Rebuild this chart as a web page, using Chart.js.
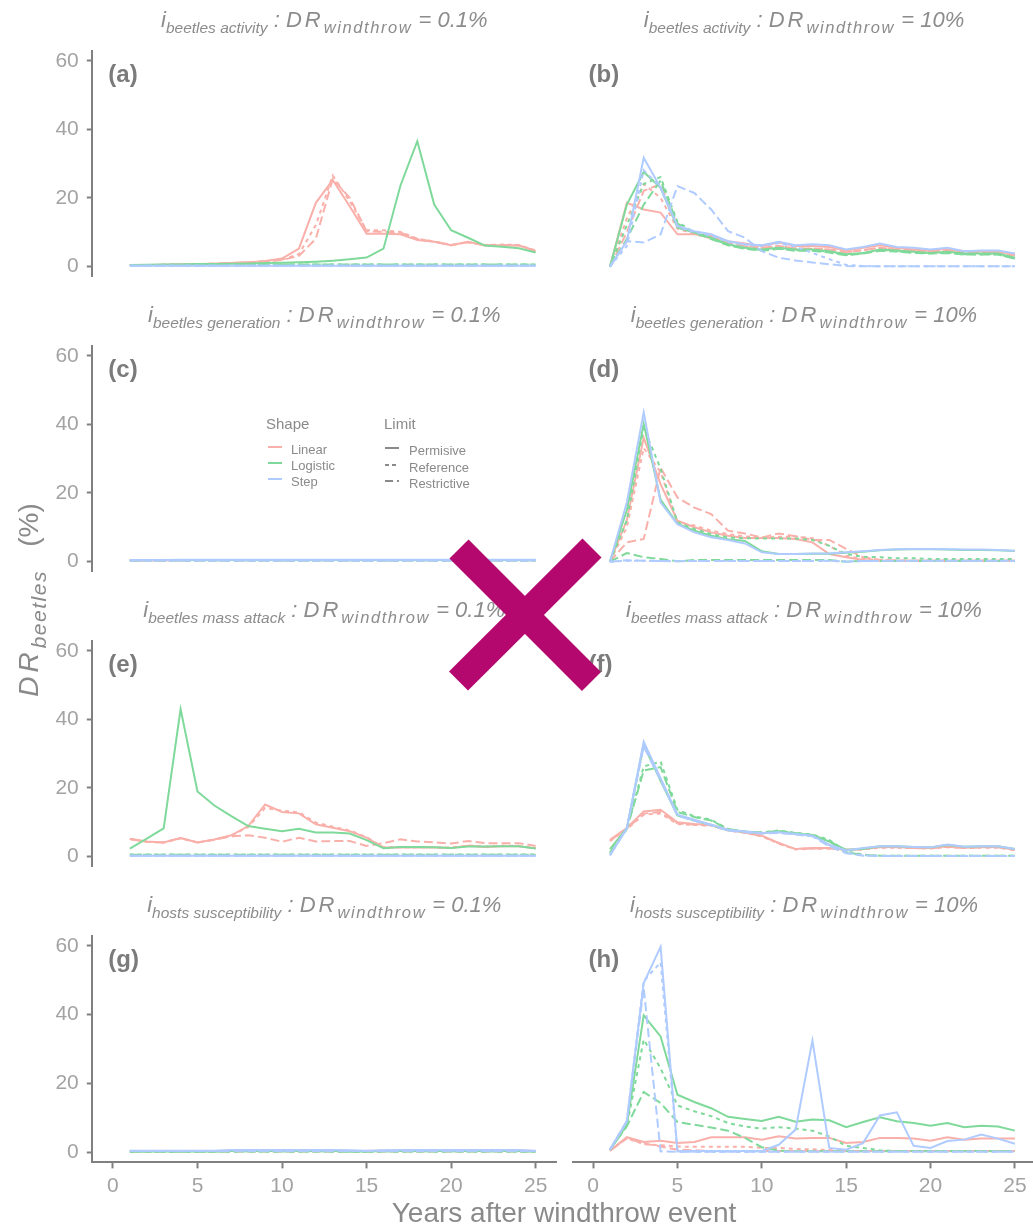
<!DOCTYPE html>
<html><head><meta charset="utf-8">
<script src="https://cdn.jsdelivr.net/npm/chart.js@4.4.1/dist/chart.umd.min.js"></script>
<style>
html,body{margin:0;padding:0;background:#fff;}
body{width:1033px;height:1228px;overflow:hidden;position:relative;font-family:"Liberation Sans",Arial,sans-serif;}
canvas{position:absolute;}
.strip{position:absolute;transform:translateX(-50%);white-space:nowrap;color:#8c8c8c;font-style:italic;font-size:22px;line-height:26px;}
.strip .sb{font-size:15.5px;position:relative;top:6px;}
.strip .sw{font-size:16.5px;position:relative;top:6px;letter-spacing:1.6px;}
.strip .dr{letter-spacing:3px;}
.plab{position:absolute;font-weight:bold;font-size:24px;line-height:26px;color:#7b7b7b;}
.xtitle{position:absolute;left:564px;top:1197px;transform:translateX(-50%);font-size:28px;line-height:32px;color:#8a8a8a;white-space:nowrap;}
.ytitle{position:absolute;left:30px;top:600px;transform:translate(-50%,-50%) rotate(-90deg);font-size:28px;line-height:32px;color:#8a8a8a;white-space:nowrap;}
.ytitle .dr{font-style:italic;letter-spacing:4px;}
.ytitle .sb{font-style:italic;font-size:21px;position:relative;top:8px;letter-spacing:1.5px;}
.leg{position:absolute;color:#8a8a8a;white-space:nowrap;}
.leg .t{position:absolute;font-size:15px;line-height:16px;}
.leg .e{position:absolute;font-size:13px;line-height:14px;}
svg.key{position:absolute;overflow:visible;}
svg.xmark{position:absolute;left:0;top:0;pointer-events:none;}
</style>
</head><body>
<script>
// ---------- data ----------
const YEARS = [1,2,3,4,5,6,7,8,9,10,11,12,13,14,15,16,17,18,19,20,21,22,23,24,25];
const X_TICKS = [0,5,10,15,20,25];
const Y_TICKS = [0,20,40,60];
const SHAPES = ['Linear','Logistic','Step'];
const LIMITS = ['Permisive','Reference','Restrictive'];
const FACTORS = ['beetles activity','beetles generation','beetles mass attack','hosts susceptibility'];
const DR_LEVELS = ['0.1%','10%'];
const PANEL_LABELS = ['(a)','(b)','(c)','(d)','(e)','(f)','(g)','(h)'];

// (a) beetles activity, 0.1%
const a_lin_per = [0.3,0.3,0.4,0.5,0.6,0.7,0.9,1.1,1.5,2.2,5.1,18.5,25.2,17.5,9.5,9.5,9.3,7.6,7.1,6.1,7.1,6.0,6.1,6.0,4.4];
const a_lin_ref = [0.3,0.3,0.4,0.5,0.6,0.7,0.9,1.1,1.4,1.9,3.5,12.0,26.5,19.0,10.5,10.5,10.0,8.0,7.2,6.2,7.0,6.2,6.3,6.2,4.6];
const a_lin_res = [0.3,0.3,0.4,0.5,0.6,0.7,0.9,1.1,1.4,1.8,3.0,8.0,25.5,20.0,10.2,10.0,9.8,7.9,7.2,6.1,7.0,6.1,6.2,6.1,4.5];
const a_log_per = [0.3,0.4,0.5,0.5,0.6,0.6,0.7,0.8,0.9,1.0,1.1,1.3,1.6,2.0,2.5,5.1,23.5,36.5,18.0,10.5,8.3,6.0,5.7,5.2,4.0];
const a_log_ref = [0.3,0.3,0.4,0.4,0.4,0.4,0.4,0.5,0.5,0.5,0.5,0.5,0.5,0.5,0.5,0.5,0.5,0.5,0.5,0.5,0.5,0.5,0.5,0.5,0.5];
const a_log_res = [0.3,0.3,0.3,0.4,0.4,0.4,0.4,0.4,0.5,0.5,0.5,0.5,0.5,0.5,0.5,0.5,0.5,0.5,0.5,0.5,0.5,0.5,0.5,0.5,0.5];
const a_stp_per = [0.1,0.1,0.1,0.1,0.1,0.1,0.1,0.1,0.1,0.1,0.1,0.1,0.1,0.1,0.1,0.1,0.1,0.1,0.1,0.1,0.1,0.1,0.1,0.1,0.1];
const a_stp_ref = [0.1,0.1,0.1,0.1,0.1,0.1,0.1,0.1,0.1,0.1,0.1,0.1,0.1,0.1,0.1,0.1,0.1,0.1,0.1,0.1,0.1,0.1,0.1,0.1,0.1];
const a_stp_res = [0.1,0.1,0.1,0.1,0.1,0.1,0.1,0.1,0.1,0.1,0.1,0.1,0.1,0.1,0.1,0.1,0.1,0.1,0.1,0.1,0.1,0.1,0.1,0.1,0.1];

// (b) beetles activity, 10%
const b_lin_per = [0,18.5,16.6,15.7,9.4,9.4,8.9,7.4,6.7,6.0,7.0,6.0,6.0,5.7,4.7,5.5,6.2,5.5,5.0,4.7,5.2,4.5,4.5,4.5,3.4];
const b_lin_ref = [0,14.0,24.0,20.0,11.0,9.5,8.2,6.8,6.0,5.5,6.0,5.3,5.2,5.0,4.2,4.8,5.5,5.0,4.6,4.3,4.8,4.2,4.2,4.2,3.2];
const b_lin_res = [0,10.0,22.0,24.0,12.0,9.8,8.3,6.8,6.0,5.5,6.0,5.3,5.3,5.0,4.2,4.8,5.5,5.0,4.6,4.3,4.8,4.2,4.2,4.2,3.2];
const b_log_per = [0,18.0,27.5,22.9,11.3,9.9,8.4,6.5,5.5,5.0,5.5,5.0,5.0,4.5,3.6,4.0,5.0,4.7,4.3,4.0,4.3,3.8,3.8,3.8,2.6];
const b_log_ref = [0,12.0,24.0,26.0,13.0,10.0,8.2,6.3,5.3,4.8,5.3,4.8,4.8,4.3,3.4,3.9,4.8,4.5,4.1,3.9,4.1,3.6,3.6,3.6,2.4];
const b_log_res = [0,8.0,18.0,25.0,12.5,9.8,8.0,6.2,5.2,4.6,5.2,4.6,4.6,4.1,3.3,3.8,4.6,4.4,4.0,3.8,4.0,3.5,3.5,3.5,2.3];
const b_stp_per = [0,7.4,31.6,22.9,11.8,10.3,9.4,7.4,6.5,6.2,7.2,6.2,6.5,6.2,5.0,5.7,6.7,5.7,5.5,5.0,5.5,4.5,4.7,4.7,3.8];
const b_stp_ref = [0,6.0,28.0,23.0,11.5,10.0,9.0,7.2,6.4,6.0,6.8,5.8,4.0,2.2,0.5,0.2,0.1,0.1,0.1,0.1,0.1,0.1,0.1,0.1,0.1];
const b_stp_res = [0,7.4,7.0,9.4,23.4,21.4,16.6,10.3,8.4,4.5,2.6,1.8,1.2,0.7,0.2,0.1,0.1,0.1,0.1,0.1,0.1,0.1,0.1,0.1,0.1];

// (c) beetles generation, 0.1%
const c_lin_per = [0.2,0.2,0.2,0.3,0.3,0.3,0.3,0.3,0.3,0.3,0.3,0.3,0.3,0.3,0.3,0.3,0.3,0.3,0.3,0.3,0.3,0.3,0.3,0.3,0.3];
const c_lin_ref = [0.2,0.2,0.2,0.2,0.3,0.3,0.3,0.3,0.3,0.3,0.3,0.3,0.3,0.3,0.3,0.3,0.3,0.3,0.3,0.3,0.3,0.3,0.3,0.3,0.3];
const c_lin_res = [0.2,0.2,0.2,0.2,0.2,0.2,0.2,0.2,0.2,0.2,0.2,0.2,0.2,0.2,0.2,0.2,0.2,0.2,0.2,0.2,0.2,0.2,0.2,0.2,0.2];
const c_log_per = [0.3,0.3,0.3,0.3,0.3,0.3,0.3,0.3,0.3,0.3,0.3,0.3,0.3,0.3,0.3,0.3,0.3,0.3,0.3,0.3,0.3,0.3,0.3,0.3,0.3];
const c_log_ref = [0.2,0.2,0.2,0.2,0.2,0.2,0.2,0.2,0.2,0.2,0.2,0.2,0.2,0.2,0.2,0.2,0.2,0.2,0.2,0.2,0.2,0.2,0.2,0.2,0.2];
const c_log_res = [0.2,0.2,0.2,0.2,0.2,0.2,0.2,0.2,0.2,0.2,0.2,0.2,0.2,0.2,0.2,0.2,0.2,0.2,0.2,0.2,0.2,0.2,0.2,0.2,0.2];
const c_stp_per = [0.3,0.3,0.3,0.4,0.4,0.4,0.4,0.4,0.4,0.4,0.4,0.4,0.4,0.4,0.4,0.4,0.4,0.4,0.4,0.4,0.4,0.4,0.4,0.4,0.4];
const c_stp_ref = [0.2,0.1,0.2,0.2,0.2,0.2,0.2,0.2,0.2,0.2,0.2,0.2,0.2,0.2,0.2,0.2,0.2,0.2,0.2,0.2,0.2,0.2,0.2,0.2,0.2];
const c_stp_res = [0.2,0.2,0.2,0.2,0.2,0.2,0.2,0.2,0.2,0.2,0.2,0.2,0.2,0.2,0.1,0.2,0.2,0.2,0.2,0.2,0.2,0.2,0.2,0.2,0.2];

// (d) beetles generation, 10%
const d_lin_per = [0,12.0,36.0,22.5,11.9,10.0,8.5,7.5,6.9,6.9,6.9,6.6,5.6,2.2,1.3,0.5,0.3,0.3,0.3,0.3,0.3,0.3,0.3,0.3,0.3];
const d_lin_ref = [0,10.0,33.0,26.0,11.4,10.5,9.0,8.0,7.3,7.0,7.2,7.3,6.8,4.6,1.7,0.8,0.5,0.3,0.3,0.3,0.3,0.3,0.3,0.3,0.3];
const d_lin_res = [0,5.6,6.6,27.3,18.6,15.7,13.8,9.0,8.2,7.0,8.2,7.4,6.3,6.3,3.7,1.3,0.5,0.3,0.3,0.3,0.3,0.3,0.3,0.3,0.3];
const d_log_per = [0,15.0,40.0,18.0,11.0,9.0,7.5,6.5,6.0,3.0,2.2,2.2,2.3,2.3,2.6,2.9,3.3,3.5,3.6,3.6,3.5,3.4,3.4,3.3,3.1];
const d_log_ref = [0,12.0,39.0,27.0,11.4,9.5,8.0,7.0,6.8,6.7,6.7,6.7,6.3,4.6,2.2,1.4,1.3,1.0,1.0,0.8,0.8,0.8,0.8,0.8,0.8];
const d_log_res = [0,2.5,1.3,0.8,0.1,0.5,0.5,0.5,0.5,0.5,0.5,0.5,0.5,0.5,0.0,0.2,0.2,0.2,0.2,0.2,0.2,0.2,0.2,0.2,0.2];
const d_stp_per = [0,17.2,43.3,17.2,10.9,8.5,7.1,6.3,5.3,2.7,2.2,2.2,2.4,2.4,2.7,3.0,3.4,3.6,3.7,3.7,3.6,3.5,3.5,3.4,3.2];
const d_stp_ref = [0,0.3,0.3,0.2,0.2,0.2,0.2,0.2,0.2,0.2,0.2,0.2,0.2,0.2,0.1,0.2,0.2,0.2,0.2,0.2,0.2,0.2,0.2,0.2,0.2];
const d_stp_res = [0,0.4,0.3,0.2,0.1,0.2,0.2,0.2,0.2,0.2,0.2,0.2,0.2,0.3,0.0,0.2,0.2,0.3,0.3,0.3,0.3,0.3,0.3,0.3,0.3];

// (e) beetles mass attack, 0.1%
const e_lin_per = [5.1,4.3,4.0,5.3,4.0,4.9,6.1,8.8,15.1,12.9,12.5,9.3,8.3,7.3,5.4,2.5,2.5,2.5,2.5,2.4,3.0,2.7,2.9,2.9,2.3];
const e_lin_ref = [5.0,4.2,4.0,5.2,4.0,4.8,6.0,8.5,14.1,13.3,12.8,9.8,8.6,7.5,5.5,2.6,2.6,2.6,2.6,2.5,3.1,2.8,3.0,3.0,2.4];
const e_lin_res = [5.0,4.2,4.0,5.3,4.0,4.8,5.8,6.1,5.4,4.2,5.4,4.3,4.4,4.4,3.0,3.8,4.9,4.3,4.0,3.7,4.4,3.8,3.8,3.8,3.0];
const e_log_per = [2.2,5.1,8.1,43.0,18.9,14.8,11.7,8.8,8.0,7.3,8.0,6.9,6.9,6.6,4.7,2.3,2.7,2.7,2.6,2.4,2.8,2.8,2.9,2.9,2.2];
const e_log_ref = [0.5,0.5,0.5,0.5,0.5,0.5,0.5,0.5,0.5,0.5,0.5,0.5,0.5,0.5,0.5,0.5,0.5,0.5,0.5,0.5,0.5,0.5,0.5,0.5,0.5];
const e_log_res = [0.4,0.4,0.4,0.4,0.4,0.4,0.4,0.4,0.4,0.4,0.4,0.4,0.4,0.4,0.4,0.4,0.4,0.4,0.4,0.4,0.4,0.4,0.4,0.4,0.4];
const e_stp_per = [0.1,0.1,0.1,0.1,0.1,0.1,0.1,0.1,0.1,0.1,0.1,0.1,0.1,0.1,0.1,0.1,0.1,0.1,0.1,0.1,0.1,0.1,0.1,0.1,0.1];
const e_stp_ref = [0.1,0.1,0.1,0.1,0.1,0.1,0.1,0.1,0.1,0.1,0.1,0.1,0.1,0.1,0.1,0.1,0.1,0.1,0.1,0.1,0.1,0.1,0.1,0.1,0.1];
const e_stp_res = [0.1,0.1,0.1,0.1,0.1,0.1,0.1,0.1,0.1,0.1,0.1,0.1,0.1,0.1,0.1,0.1,0.1,0.1,0.1,0.1,0.1,0.1,0.1,0.1,0.1];

// (f) beetles mass attack, 10%
const f_lin_per = [4.9,8.3,13.1,13.6,10.0,9.5,9.3,7.8,7.1,6.1,4.0,2.2,2.5,2.5,2.0,2.2,2.8,2.8,2.6,2.5,3.0,2.6,2.8,2.8,2.0];
const f_lin_ref = [4.5,8.0,12.2,12.5,9.5,9.2,9.0,7.6,6.9,5.9,3.8,2.1,2.3,2.4,1.9,2.1,2.6,2.6,2.5,2.4,2.8,2.5,2.6,2.6,1.9];
const f_lin_res = [4.7,8.1,12.5,13.0,9.7,9.3,9.1,7.7,7.0,6.0,3.9,2.2,2.4,2.4,2.0,2.2,2.7,2.7,2.5,2.4,2.9,2.5,2.7,2.7,2.0];
const f_log_per = [2.2,8.3,32.5,22.0,12.0,10.5,9.2,7.7,7.2,6.8,7.3,6.8,6.2,4.4,2.0,2.2,3.0,3.0,2.8,2.7,3.4,2.9,3.0,3.0,2.2];
const f_log_ref = [1.0,8.0,26.2,27.6,13.6,11.7,10.7,8.0,7.3,7.0,7.6,6.9,6.4,4.9,1.5,0.6,0.3,0.3,0.3,0.3,0.3,0.3,0.3,0.3,0.3];
const f_log_res = [1.2,8.0,25.0,26.0,13.0,11.5,10.5,8.0,7.3,7.0,7.5,6.8,6.3,4.5,1.3,0.5,0.3,0.3,0.3,0.3,0.3,0.3,0.3,0.3,0.3];
const f_stp_per = [0.4,8.3,33.4,22.8,12.2,10.7,9.3,7.8,7.3,6.9,7.1,6.6,6.1,3.5,1.8,2.5,3.0,3.0,2.8,2.7,3.5,2.9,3.0,3.0,2.2];
const f_stp_ref = [0.4,8.3,32.8,22.5,12.0,10.5,9.2,7.7,7.2,6.8,7.0,6.5,6.0,3.3,1.2,0.4,0.2,0.2,0.2,0.2,0.2,0.2,0.2,0.2,0.2];
const f_stp_res = [0.4,8.2,32.0,22.2,11.9,10.4,9.1,7.6,7.1,6.7,6.9,6.4,5.9,3.0,1.0,0.3,0.2,0.2,0.2,0.2,0.2,0.2,0.2,0.2,0.2];

// (g) hosts susceptibility, 0.1%
const g_lin_per = [0.3,0.3,0.3,0.3,0.3,0.3,0.4,0.4,0.4,0.4,0.4,0.4,0.4,0.3,0.3,0.4,0.4,0.4,0.4,0.4,0.4,0.4,0.4,0.4,0.3];
const g_lin_ref = [0.2,0.2,0.2,0.2,0.2,0.2,0.3,0.3,0.3,0.3,0.3,0.3,0.3,0.2,0.2,0.3,0.3,0.3,0.3,0.3,0.3,0.3,0.3,0.3,0.2];
const g_lin_res = [0.2,0.2,0.2,0.2,0.2,0.2,0.2,0.2,0.2,0.2,0.2,0.2,0.2,0.2,0.2,0.2,0.2,0.2,0.2,0.2,0.2,0.2,0.2,0.2,0.2];
const g_log_per = [0.2,0.2,0.2,0.2,0.2,0.2,0.3,0.3,0.3,0.3,0.3,0.3,0.3,0.2,0.2,0.3,0.3,0.3,0.3,0.3,0.3,0.3,0.3,0.3,0.2];
const g_log_ref = [0.2,0.2,0.2,0.2,0.2,0.2,0.2,0.2,0.2,0.2,0.2,0.2,0.2,0.2,0.2,0.2,0.2,0.2,0.2,0.2,0.2,0.2,0.2,0.2,0.2];
const g_log_res = [0.2,0.2,0.2,0.2,0.2,0.2,0.2,0.2,0.2,0.2,0.2,0.2,0.2,0.2,0.2,0.2,0.2,0.2,0.2,0.2,0.2,0.2,0.2,0.2,0.2];
const g_stp_per = [0.4,0.4,0.4,0.4,0.4,0.4,0.6,0.6,0.6,0.6,0.6,0.6,0.6,0.5,0.4,0.5,0.6,0.6,0.6,0.6,0.6,0.6,0.6,0.6,0.4];
const g_stp_ref = [0.3,0.3,0.3,0.3,0.3,0.3,0.4,0.4,0.4,0.4,0.4,0.4,0.4,0.3,0.3,0.4,0.4,0.4,0.4,0.4,0.4,0.4,0.4,0.4,0.3];
const g_stp_res = [0.3,0.3,0.3,0.3,0.3,0.3,0.3,0.3,0.3,0.3,0.3,0.3,0.3,0.3,0.3,0.3,0.3,0.3,0.3,0.3,0.3,0.3,0.3,0.3,0.3];

// (h) hosts susceptibility, 10%
const h_lin_per = [0.4,4.3,2.9,3.3,2.6,2.9,4.3,4.3,4.3,3.6,4.6,3.9,4.1,4.1,2.6,2.9,4.1,4.1,3.9,3.3,4.3,3.6,3.9,3.9,3.9];
const h_lin_ref = [0.4,4.0,2.3,2.0,1.6,1.5,1.5,1.5,1.5,1.2,1.2,0.9,0.8,0.6,0.3,0.3,0.3,0.3,0.3,0.3,0.3,0.3,0.3,0.3,0.3];
const h_lin_res = [0.4,4.0,2.5,1.6,0.7,0.5,0.3,0.3,0.3,0.3,0.3,0.3,0.3,0.3,0.3,0.3,0.3,0.3,0.3,0.3,0.3,0.3,0.3,0.3,0.3];
const h_log_per = [0.7,7.9,39.6,33.5,16.6,14.5,12.7,10.2,9.6,9.0,10.2,8.8,9.4,9.2,7.2,8.7,10.1,8.9,8.4,7.6,8.4,7.2,7.6,7.4,6.2];
const h_log_ref = [0.7,7.5,32.6,24.3,13.5,11.8,10.4,8.4,7.4,6.8,7.2,6.8,6.2,4.5,1.8,1.2,0.5,0.3,0.3,0.3,0.3,0.3,0.3,0.3,0.3];
const h_log_res = [0.7,7.5,17.4,14.2,8.7,7.9,7.1,6.2,4.1,1.4,0.4,0.2,0.2,0.2,0.2,0.2,0.2,0.2,0.2,0.2,0.2,0.2,0.2,0.2,0.2];
const h_stp_per = [0.7,8.9,49.0,59.5,0.2,0.3,0.3,0.3,0.3,0.3,2.1,6.5,32.3,1.2,0.7,2.6,10.6,11.5,1.8,1.2,3.2,3.6,5.1,3.9,2.4];
const h_stp_ref = [0.7,9.0,49.5,55.0,0.2,0.1,0.1,0.1,0.1,0.1,0.1,0.1,0.1,0.1,0.1,0.1,0.1,0.1,0.1,0.1,0.1,0.1,0.1,0.1,0.1];
const h_stp_res = [0.7,9.0,47.6,0.2,0.1,0.1,0.1,0.1,0.1,0.1,0.1,0.1,0.1,0.1,0.1,0.1,0.1,0.1,0.1,0.1,0.1,0.1,0.1,0.1,0.1];

const PANEL_SERIES = [
  [[a_lin_per,a_lin_ref,a_lin_res],[a_log_per,a_log_ref,a_log_res],[a_stp_per,a_stp_ref,a_stp_res]],
  [[b_lin_per,b_lin_ref,b_lin_res],[b_log_per,b_log_ref,b_log_res],[b_stp_per,b_stp_ref,b_stp_res]],
  [[c_lin_per,c_lin_ref,c_lin_res],[c_log_per,c_log_ref,c_log_res],[c_stp_per,c_stp_ref,c_stp_res]],
  [[d_lin_per,d_lin_ref,d_lin_res],[d_log_per,d_log_ref,d_log_res],[d_stp_per,d_stp_ref,d_stp_res]],
  [[e_lin_per,e_lin_ref,e_lin_res],[e_log_per,e_log_ref,e_log_res],[e_stp_per,e_stp_ref,e_stp_res]],
  [[f_lin_per,f_lin_ref,f_lin_res],[f_log_per,f_log_ref,f_log_res],[f_stp_per,f_stp_ref,f_stp_res]],
  [[g_lin_per,g_lin_ref,g_lin_res],[g_log_per,g_log_ref,g_log_res],[g_stp_per,g_stp_ref,g_stp_res]],
  [[h_lin_per,h_lin_ref,h_lin_res],[h_log_per,h_log_ref,h_log_res],[h_stp_per,h_stp_ref,h_stp_res]]
];

// ---------- styles / layout ----------
const SHAPE_COLORS = ['#F9B0AA','#7FD99A','#AFCBFF'];
const LIMIT_DASH = [[],[4,4],[9,4]];
const FONT = '"Liberation Sans", Arial, sans-serif';
const TICK_COLOR = '#a3a3a3';
const AXIS_COLOR = '#808080';
const ROW_TOP0 = 49.65, ROW_PITCH = 295, PANEL_H = 227.7;
const COL_CANVAS = [{left:0,width:560,padL:0,padR:3.2},{left:572,width:464,padL:0,padR:0}];
const Y_AXIS_W = 91.8;
const X_AXIS_H = 37.6;

function makePanel(idx){
  const row = Math.floor(idx/2), col = idx%2;
  const isBottom = row === 3;
  const hasY = col === 0;
  const chartTop = ROW_TOP0 + ROW_PITCH*row;
  const canvasTop = Math.floor(chartTop) - 19;
  const padTop = chartTop - canvasTop;
  const padBottom = isBottom ? 0 : 20;
  const height = Math.round(padTop + PANEL_H + (isBottom ? X_AXIS_H : padBottom));
  const cc = COL_CANVAS[col];
  const cv = document.createElement('canvas');
  cv.width = cc.width; cv.height = height;
  cv.style.left = cc.left+'px'; cv.style.top = canvasTop+'px';
  cv.style.width = cc.width+'px'; cv.style.height = height+'px';
  document.body.appendChild(cv);

  const datasets = [];
  PANEL_SERIES[idx].forEach((limSeries, s) => {
    limSeries.forEach((vals, l) => {
      datasets.push({
        label: SHAPES[s]+' / '+LIMITS[l],
        data: vals.map((v,i)=>({x:YEARS[i], y:v})),
        borderColor: SHAPE_COLORS[s],
        borderDash: LIMIT_DASH[l],
        borderWidth: 2,
        pointRadius: 0,
        fill: false,
        tension: 0
      });
    });
  });
  datasets.reverse(); // first dataset drawn on top in Chart.js

  const tickFont = {family: FONT, size: 21};
  new Chart(cv, {
    type: 'line',
    data: {datasets},
    options: {
      responsive: false, animation: false, devicePixelRatio: 1,
      layout: {padding: {left: cc.padL, right: cc.padR, top: padTop, bottom: padBottom}},
      plugins: {legend: {display: false}, tooltip: {enabled: false}},
      scales: {
        x: {
          type: 'linear', min: -1.25, max: 26.25, display: isBottom,
          afterBuildTicks: s => { s.ticks = X_TICKS.map(v => ({value: v})); },
          afterFit: s => { if (isBottom) s.height = X_AXIS_H; },
          ticks: {font: tickFont, color: TICK_COLOR, padding: 5, maxRotation: 0, autoSkip: false},
          grid: {drawOnChartArea: false, drawTicks: true, tickLength: 6, tickColor: AXIS_COLOR, tickWidth: 2},
          border: {display: true, color: AXIS_COLOR, width: 2}
        },
        y: {
          type: 'linear', min: -3, max: 63, display: hasY,
          afterBuildTicks: s => { s.ticks = Y_TICKS.map(v => ({value: v})); },
          afterFit: s => { if (hasY) s.width = Y_AXIS_W; },
          ticks: {font: tickFont, color: TICK_COLOR, padding: 8},
          grid: {drawOnChartArea: false, drawTicks: true, tickLength: 5, tickColor: AXIS_COLOR, tickWidth: 2},
          border: {display: true, color: AXIS_COLOR, width: 2}
        }
      }
    }
  });

  // strip title
  const chartLeft = cc.left + (hasY ? Y_AXIS_W : cc.padL);
  const chartRight = cc.left + cc.width - cc.padR;
  const st = document.createElement('div');
  st.className = 'strip';
  st.style.left = ((chartLeft + chartRight)/2) + 'px';
  st.style.top = (chartTop - 43) + 'px';
  st.innerHTML = 'i<span class="sb">' + FACTORS[row] + '</span> : <span class="dr">DR</span><span class="sw">windthrow</span> = ' + DR_LEVELS[col];
  document.body.appendChild(st);

  // panel label
  const pl = document.createElement('div');
  pl.className = 'plab';
  pl.style.left = (chartLeft + 16.5) + 'px';
  pl.style.top = (chartTop + 11) + 'px';
  pl.textContent = PANEL_LABELS[idx];
  document.body.appendChild(pl);
}

for (let i = 0; i < 8; i++) makePanel(i);

// ---------- legend (inside panel c) ----------
const SVGNS = 'http://www.w3.org/2000/svg';
function keyLine(x, y, color, dash){
  const svg = document.createElementNS(SVGNS, 'svg');
  svg.setAttribute('class','key');
  svg.setAttribute('width','16'); svg.setAttribute('height','4');
  svg.style.left = x+'px'; svg.style.top = (y-2)+'px';
  const ln = document.createElementNS(SVGNS, 'line');
  ln.setAttribute('x1','0'); ln.setAttribute('y1','2'); ln.setAttribute('x2','14'); ln.setAttribute('y2','2');
  ln.setAttribute('stroke', color); ln.setAttribute('stroke-width','2');
  if (dash.length) ln.setAttribute('stroke-dasharray', dash.join(','));
  svg.appendChild(ln);
  document.body.appendChild(svg);
}
function legText(cls, x, yc, txt){
  const d = document.createElement('div');
  d.className = 'leg';
  d.innerHTML = '<span class="'+cls+'">'+txt+'</span>';
  d.style.left = x+'px';
  d.style.top = (yc - (cls==='t'?8:7))+'px';
  document.body.appendChild(d);
  d.firstChild.style.position='relative';
}
legText('t', 266, 423, 'Shape');
legText('t', 384, 423, 'Limit');
const SHAPE_KEY_Y = [447, 463, 479];
const LIMIT_KEY_Y = [448, 464.5, 481];
SHAPES.forEach((s,i) => { keyLine(268, SHAPE_KEY_Y[i], SHAPE_COLORS[i], []); legText('e', 291, SHAPE_KEY_Y[i], s); });
LIMITS.forEach((s,i) => { keyLine(385, LIMIT_KEY_Y[i], '#8a8a8a', LIMIT_DASH[i].length ? (i===1?[4,3]:[8,4]) : []); legText('e', 409, LIMIT_KEY_Y[i], s); });

// ---------- axis titles ----------
const xt = document.createElement('div');
xt.className = 'xtitle'; xt.textContent = 'Years after windthrow event';
document.body.appendChild(xt);
const yt = document.createElement('div');
yt.className = 'ytitle';
yt.innerHTML = '<span class="dr">DR</span><span class="sb">beetles</span>&nbsp;&nbsp;&nbsp;(%)';
document.body.appendChild(yt);

// ---------- overlay mark ----------
const xm = document.createElementNS(SVGNS, 'svg');
xm.setAttribute('class','xmark'); xm.setAttribute('width','1033'); xm.setAttribute('height','1228');
[[459,549,591.5,681.5],[592,548,458.5,681]].forEach(c => {
  const ln = document.createElementNS(SVGNS, 'line');
  ln.setAttribute('x1',c[0]); ln.setAttribute('y1',c[1]); ln.setAttribute('x2',c[2]); ln.setAttribute('y2',c[3]);
  ln.setAttribute('stroke','#b5086e'); ln.setAttribute('stroke-width','27'); ln.setAttribute('stroke-linecap','butt');
  xm.appendChild(ln);
});
document.body.appendChild(xm);
</script>
</body></html>
